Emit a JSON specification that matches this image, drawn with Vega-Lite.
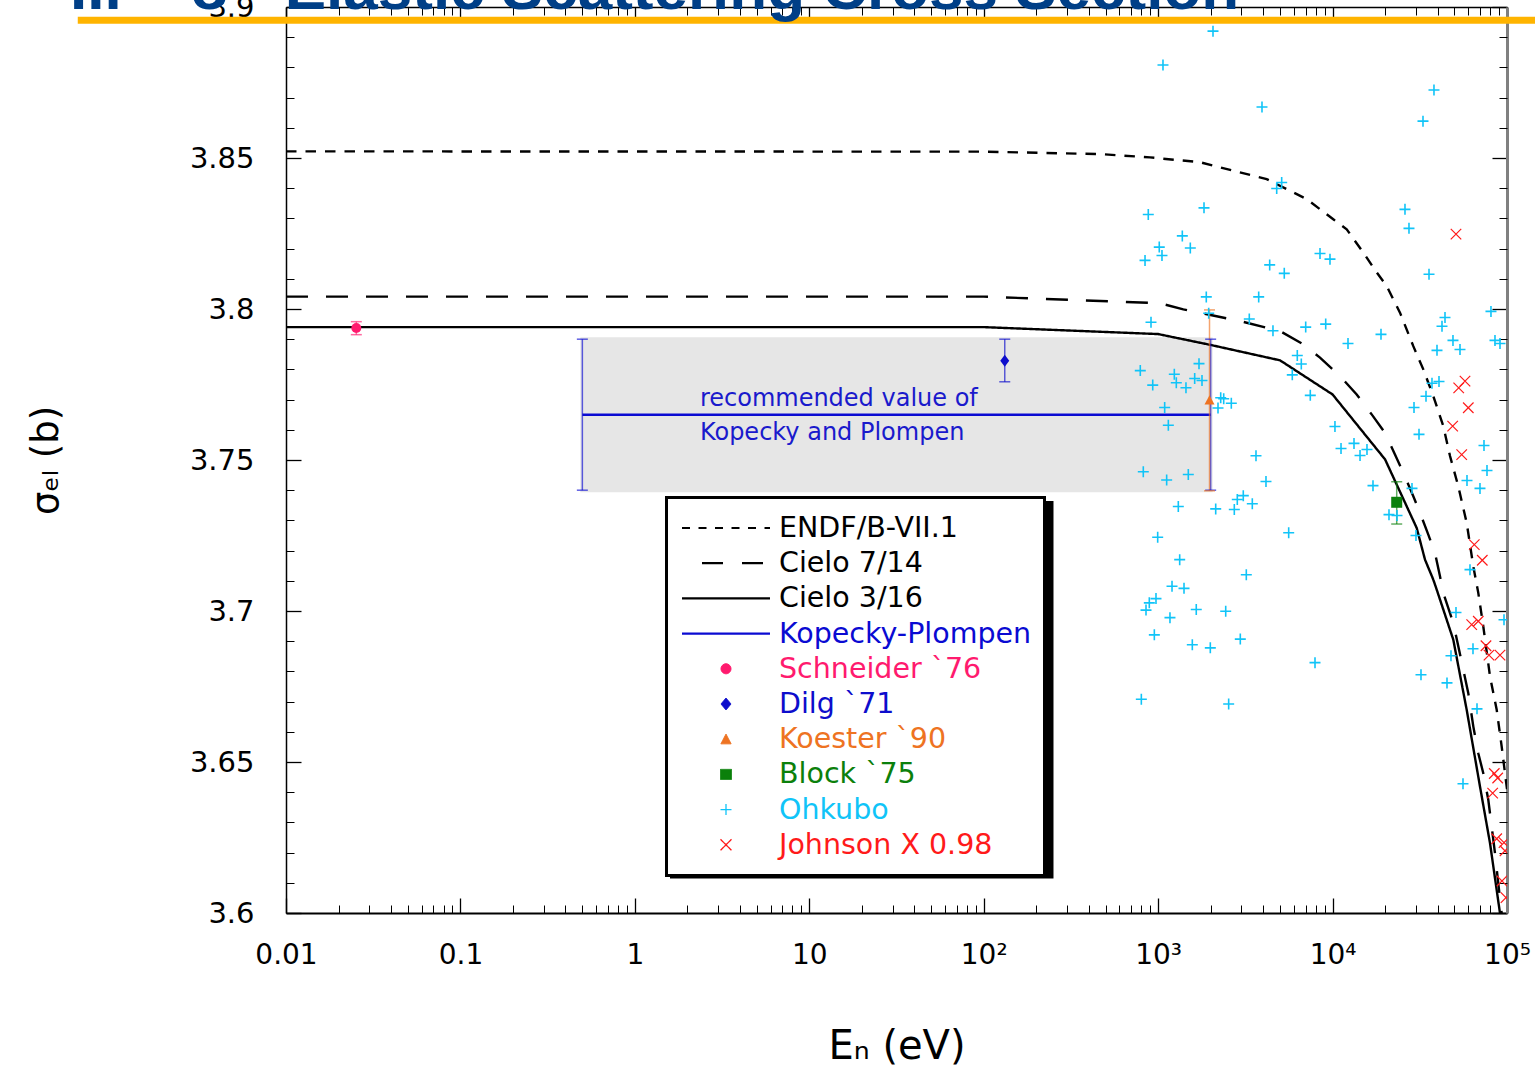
{
  "$schema": "https://vega.github.io/schema/vega-lite/v6.json",
  "width": 1221,
  "height": 906,
  "autosize": "none",
  "padding": {"left": 286, "top": 7, "right": 28, "bottom": 168},
  "background": "white",
  "config": {
    "view": {"stroke": null},
    "axis": {"grid": false, "labelFont": "DejaVu Sans", "titleFont": "DejaVu Sans", "tickColor": "black", "domainColor": "black", "labelColor": "black", "titleColor": "black", "titleFontWeight": "normal"},
    "legend": {"strokeWidth": 3}
  },
  "resolve": {"axis": {"x": "independent", "y": "independent"}},
  "datasets": {
    "heading": [{"label": "II.\u00a0\u00a0\u00a0\u00a0σ\u00a0\u00a0\u00a0Elastic Scattering Cross Section"}],
    "band": [{"E1": 0.5, "E2": 2000, "lo": 3.74, "hi": 3.79}],
    "note": [{"E": 2.36, "sigma": 3.765, "label": "recommended value of\nKopecky and Plompen"}],
    "curves": [
      {"series": "ENDF/B-VII.1", "E": 0.01, "sigma": 3.8522},
      {"series": "ENDF/B-VII.1", "E": 100, "sigma": 3.8521},
      {"series": "ENDF/B-VII.1", "E": 464, "sigma": 3.8513},
      {"series": "ENDF/B-VII.1", "E": 898, "sigma": 3.8502},
      {"series": "ENDF/B-VII.1", "E": 1738, "sigma": 3.8486},
      {"series": "ENDF/B-VII.1", "E": 4190, "sigma": 3.843},
      {"series": "ENDF/B-VII.1", "E": 7105, "sigma": 3.8364},
      {"series": "ENDF/B-VII.1", "E": 10090, "sigma": 3.8297},
      {"series": "ENDF/B-VII.1", "E": 12050, "sigma": 3.8264},
      {"series": "ENDF/B-VII.1", "E": 15000, "sigma": 3.8187},
      {"series": "ENDF/B-VII.1", "E": 17910, "sigma": 3.8121},
      {"series": "ENDF/B-VII.1", "E": 20430, "sigma": 3.8076},
      {"series": "ENDF/B-VII.1", "E": 24350, "sigma": 3.7988},
      {"series": "ENDF/B-VII.1", "E": 29030, "sigma": 3.7877},
      {"series": "ENDF/B-VII.1", "E": 33130, "sigma": 3.78},
      {"series": "ENDF/B-VII.1", "E": 37790, "sigma": 3.7712},
      {"series": "ENDF/B-VII.1", "E": 43140, "sigma": 3.7612},
      {"series": "ENDF/B-VII.1", "E": 47130, "sigma": 3.7513},
      {"series": "ENDF/B-VII.1", "E": 52570, "sigma": 3.7413},
      {"series": "ENDF/B-VII.1", "E": 58730, "sigma": 3.7292},
      {"series": "ENDF/B-VII.1", "E": 64090, "sigma": 3.7148},
      {"series": "ENDF/B-VII.1", "E": 68450, "sigma": 3.706},
      {"series": "ENDF/B-VII.1", "E": 73130, "sigma": 3.6949},
      {"series": "ENDF/B-VII.1", "E": 79920, "sigma": 3.6783},
      {"series": "ENDF/B-VII.1", "E": 87280, "sigma": 3.6673},
      {"series": "ENDF/B-VII.1", "E": 93230, "sigma": 3.6551},
      {"series": "ENDF/B-VII.1", "E": 97390, "sigma": 3.6463},
      {"series": "ENDF/B-VII.1", "E": 100000, "sigma": 3.641},
      {"series": "Cielo 7/14", "E": 0.01, "sigma": 3.8041},
      {"series": "Cielo 7/14", "E": 100, "sigma": 3.8041},
      {"series": "Cielo 7/14", "E": 1025, "sigma": 3.8019},
      {"series": "Cielo 7/14", "E": 1394, "sigma": 3.7999},
      {"series": "Cielo 7/14", "E": 2945, "sigma": 3.796},
      {"series": "Cielo 7/14", "E": 4995, "sigma": 3.7927},
      {"series": "Cielo 7/14", "E": 6796, "sigma": 3.7883},
      {"series": "Cielo 7/14", "E": 8471, "sigma": 3.7839},
      {"series": "Cielo 7/14", "E": 11030, "sigma": 3.7778},
      {"series": "Cielo 7/14", "E": 13750, "sigma": 3.7717},
      {"series": "Cielo 7/14", "E": 16760, "sigma": 3.7651},
      {"series": "Cielo 7/14", "E": 19980, "sigma": 3.759},
      {"series": "Cielo 7/14", "E": 22790, "sigma": 3.7518},
      {"series": "Cielo 7/14", "E": 25440, "sigma": 3.7458},
      {"series": "Cielo 7/14", "E": 29030, "sigma": 3.738},
      {"series": "Cielo 7/14", "E": 31710, "sigma": 3.7325},
      {"series": "Cielo 7/14", "E": 35390, "sigma": 3.7253},
      {"series": "Cielo 7/14", "E": 38660, "sigma": 3.7192},
      {"series": "Cielo 7/14", "E": 41290, "sigma": 3.7115},
      {"series": "Cielo 7/14", "E": 43140, "sigma": 3.706},
      {"series": "Cielo 7/14", "E": 49210, "sigma": 3.696},
      {"series": "Cielo 7/14", "E": 56160, "sigma": 3.6806},
      {"series": "Cielo 7/14", "E": 59990, "sigma": 3.6728},
      {"series": "Cielo 7/14", "E": 64090, "sigma": 3.6618},
      {"series": "Cielo 7/14", "E": 68450, "sigma": 3.6529},
      {"series": "Cielo 7/14", "E": 73130, "sigma": 3.6463},
      {"series": "Cielo 7/14", "E": 78110, "sigma": 3.6375},
      {"series": "Cielo 7/14", "E": 81690, "sigma": 3.6286},
      {"series": "Cielo 7/14", "E": 85330, "sigma": 3.6198},
      {"series": "Cielo 7/14", "E": 89130, "sigma": 3.6098},
      {"series": "Cielo 7/14", "E": 93230, "sigma": 3.5999},
      {"series": "Cielo 7/14", "E": 100000, "sigma": 3.581},
      {"series": "Cielo 3/16", "E": 0.01, "sigma": 3.794},
      {"series": "Cielo 3/16", "E": 100, "sigma": 3.794},
      {"series": "Cielo 3/16", "E": 1000, "sigma": 3.7917},
      {"series": "Cielo 3/16", "E": 2000, "sigma": 3.7881},
      {"series": "Cielo 3/16", "E": 5000, "sigma": 3.783},
      {"series": "Cielo 3/16", "E": 10000, "sigma": 3.7717},
      {"series": "Cielo 3/16", "E": 20000, "sigma": 3.7502},
      {"series": "Cielo 3/16", "E": 30360, "sigma": 3.7275},
      {"series": "Cielo 3/16", "E": 33880, "sigma": 3.717},
      {"series": "Cielo 3/16", "E": 37790, "sigma": 3.7104},
      {"series": "Cielo 3/16", "E": 39530, "sigma": 3.7071},
      {"series": "Cielo 3/16", "E": 49210, "sigma": 3.6905},
      {"series": "Cielo 3/16", "E": 58730, "sigma": 3.6673},
      {"series": "Cielo 3/16", "E": 70000, "sigma": 3.6419},
      {"series": "Cielo 3/16", "E": 79920, "sigma": 3.6231},
      {"series": "Cielo 3/16", "E": 91170, "sigma": 3.5999},
      {"series": "Cielo 3/16", "E": 100000, "sigma": 3.578},
      {"series": "Kopecky-Plompen", "E": 0.5, "sigma": 3.765},
      {"series": "Kopecky-Plompen", "E": 2000, "sigma": 3.765}
    ],
    "errbars": [
      {"series": "Kopecky-Plompen", "E": 0.5, "lo": 3.74, "hi": 3.79},
      {"series": "Kopecky-Plompen", "E": 2000, "lo": 3.74, "hi": 3.79},
      {"series": "Schneider `76", "E": 0.0253, "lo": 3.7915, "hi": 3.7958},
      {"series": "Dilg `71", "E": 132, "lo": 3.7759, "hi": 3.79},
      {"series": "Koester `90", "E": 1970, "lo": 3.7398, "hi": 3.7997},
      {"series": "Block `75", "E": 23320, "lo": 3.7288, "hi": 3.7428}
    ],
    "schneider": [{"series": "Schneider `76", "E": 0.0253, "sigma": 3.7937}],
    "dilg": [{"series": "Dilg `71", "E": 132, "sigma": 3.7829}],
    "koester": [{"series": "Koester `90", "E": 1970, "sigma": 3.7699}],
    "block": [{"series": "Block `75", "E": 23320, "sigma": 3.736}],
    "ohkubo": [
      {"series": "Ohkubo", "E": 2063, "sigma": 3.892}, {"series": "Ohkubo", "E": 1066, "sigma": 3.8808},
      {"series": "Ohkubo", "E": 3939, "sigma": 3.8669}, {"series": "Ohkubo", "E": 38140, "sigma": 3.8725},
      {"series": "Ohkubo", "E": 32990, "sigma": 3.8622}, {"series": "Ohkubo", "E": 5108, "sigma": 3.8419},
      {"series": "Ohkubo", "E": 4783, "sigma": 3.8399}, {"series": "Ohkubo", "E": 878, "sigma": 3.8313},
      {"series": "Ohkubo", "E": 1832, "sigma": 3.8335}, {"series": "Ohkubo", "E": 1376, "sigma": 3.8242},
      {"series": "Ohkubo", "E": 1015, "sigma": 3.8205}, {"series": "Ohkubo", "E": 1529, "sigma": 3.8202},
      {"series": "Ohkubo", "E": 1052, "sigma": 3.8177}, {"series": "Ohkubo", "E": 841, "sigma": 3.8161},
      {"series": "Ohkubo", "E": 26010, "sigma": 3.833}, {"series": "Ohkubo", "E": 27420, "sigma": 3.8267},
      {"series": "Ohkubo", "E": 35720, "sigma": 3.8115}, {"series": "Ohkubo", "E": 8471, "sigma": 3.8184},
      {"series": "Ohkubo", "E": 9665, "sigma": 3.8165}, {"series": "Ohkubo", "E": 4360, "sigma": 3.8146},
      {"series": "Ohkubo", "E": 5286, "sigma": 3.8118}, {"series": "Ohkubo", "E": 1888, "sigma": 3.804},
      {"series": "Ohkubo", "E": 3771, "sigma": 3.804}, {"series": "Ohkubo", "E": 1949, "sigma": 3.7986},
      {"series": "Ohkubo", "E": 910, "sigma": 3.7956}, {"series": "Ohkubo", "E": 3331, "sigma": 3.7967},
      {"series": "Ohkubo", "E": 4553, "sigma": 3.7928}, {"series": "Ohkubo", "E": 7014, "sigma": 3.794},
      {"series": "Ohkubo", "E": 9134, "sigma": 3.795}, {"series": "Ohkubo", "E": 18950, "sigma": 3.7916},
      {"series": "Ohkubo", "E": 12260, "sigma": 3.7886}, {"series": "Ohkubo", "E": 6277, "sigma": 3.7846},
      {"series": "Ohkubo", "E": 6618, "sigma": 3.7818}, {"series": "Ohkubo", "E": 5876, "sigma": 3.7782},
      {"series": "Ohkubo", "E": 7452, "sigma": 3.7714}, {"series": "Ohkubo", "E": 1715, "sigma": 3.7819},
      {"series": "Ohkubo", "E": 790, "sigma": 3.7796}, {"series": "Ohkubo", "E": 1238, "sigma": 3.7784},
      {"series": "Ohkubo", "E": 1271, "sigma": 3.7756}, {"series": "Ohkubo", "E": 931, "sigma": 3.7748},
      {"series": "Ohkubo", "E": 1620, "sigma": 3.777}, {"series": "Ohkubo", "E": 1784, "sigma": 3.7763},
      {"series": "Ohkubo", "E": 1444, "sigma": 3.7739}, {"series": "Ohkubo", "E": 2284, "sigma": 3.7706},
      {"series": "Ohkubo", "E": 2376, "sigma": 3.7703}, {"series": "Ohkubo", "E": 2204, "sigma": 3.7672},
      {"series": "Ohkubo", "E": 2627, "sigma": 3.7688}, {"series": "Ohkubo", "E": 1090, "sigma": 3.7674},
      {"series": "Ohkubo", "E": 1144, "sigma": 3.7615}, {"series": "Ohkubo", "E": 10320, "sigma": 3.7611},
      {"series": "Ohkubo", "E": 3639, "sigma": 3.7514}, {"series": "Ohkubo", "E": 4152, "sigma": 3.7429},
      {"series": "Ohkubo", "E": 822, "sigma": 3.7461}, {"series": "Ohkubo", "E": 1119, "sigma": 3.7434},
      {"series": "Ohkubo", "E": 1489, "sigma": 3.7452}, {"series": "Ohkubo", "E": 1305, "sigma": 3.7346},
      {"series": "Ohkubo", "E": 2138, "sigma": 3.7338}, {"series": "Ohkubo", "E": 2733, "sigma": 3.7336},
      {"series": "Ohkubo", "E": 2843, "sigma": 3.7369}, {"series": "Ohkubo", "E": 3077, "sigma": 3.7382},
      {"series": "Ohkubo", "E": 3466, "sigma": 3.7355}, {"series": "Ohkubo", "E": 5603, "sigma": 3.7259},
      {"series": "Ohkubo", "E": 994, "sigma": 3.7244}, {"series": "Ohkubo", "E": 1329, "sigma": 3.717},
      {"series": "Ohkubo", "E": 3202, "sigma": 3.712}, {"series": "Ohkubo", "E": 11180, "sigma": 3.7538},
      {"series": "Ohkubo", "E": 13270, "sigma": 3.7555}, {"series": "Ohkubo", "E": 14370, "sigma": 3.7515},
      {"series": "Ohkubo", "E": 15750, "sigma": 3.7535}, {"series": "Ohkubo", "E": 17050, "sigma": 3.7415},
      {"series": "Ohkubo", "E": 21060, "sigma": 3.7319}, {"series": "Ohkubo", "E": 23410, "sigma": 3.7316},
      {"series": "Ohkubo", "E": 28530, "sigma": 3.7406}, {"series": "Ohkubo", "E": 30080, "sigma": 3.725},
      {"series": "Ohkubo", "E": 44110, "sigma": 3.7972}, {"series": "Ohkubo", "E": 42400, "sigma": 3.7943},
      {"series": "Ohkubo", "E": 80930, "sigma": 3.7992}, {"series": "Ohkubo", "E": 49010, "sigma": 3.7896},
      {"series": "Ohkubo", "E": 53770, "sigma": 3.7866}, {"series": "Ohkubo", "E": 85330, "sigma": 3.7896},
      {"series": "Ohkubo", "E": 91170, "sigma": 3.7886}, {"series": "Ohkubo", "E": 39690, "sigma": 3.7863},
      {"series": "Ohkubo", "E": 37150, "sigma": 3.7754}, {"series": "Ohkubo", "E": 40750, "sigma": 3.776},
      {"series": "Ohkubo", "E": 34330, "sigma": 3.7711}, {"series": "Ohkubo", "E": 29300, "sigma": 3.7674},
      {"series": "Ohkubo", "E": 31300, "sigma": 3.7585}, {"series": "Ohkubo", "E": 73810, "sigma": 3.7548},
      {"series": "Ohkubo", "E": 76790, "sigma": 3.7465}, {"series": "Ohkubo", "E": 58970, "sigma": 3.7432},
      {"series": "Ohkubo", "E": 70000, "sigma": 3.7406}, {"series": "Ohkubo", "E": 61350, "sigma": 3.7137},
      {"series": "Ohkubo", "E": 1201, "sigma": 3.7082}, {"series": "Ohkubo", "E": 1407, "sigma": 3.7075},
      {"series": "Ohkubo", "E": 972, "sigma": 3.7041}, {"series": "Ohkubo", "E": 890, "sigma": 3.7027},
      {"series": "Ohkubo", "E": 852, "sigma": 3.7003}, {"series": "Ohkubo", "E": 1169, "sigma": 3.6978},
      {"series": "Ohkubo", "E": 1654, "sigma": 3.7005}, {"series": "Ohkubo", "E": 2440, "sigma": 3.6999},
      {"series": "Ohkubo", "E": 951, "sigma": 3.6921}, {"series": "Ohkubo", "E": 1570, "sigma": 3.6888},
      {"series": "Ohkubo", "E": 1991, "sigma": 3.6878}, {"series": "Ohkubo", "E": 2958, "sigma": 3.6907},
      {"series": "Ohkubo", "E": 7930, "sigma": 3.6829}, {"series": "Ohkubo", "E": 801, "sigma": 3.6708},
      {"series": "Ohkubo", "E": 2537, "sigma": 3.6692}, {"series": "Ohkubo", "E": 51000, "sigma": 3.6995},
      {"series": "Ohkubo", "E": 96120, "sigma": 3.6971}, {"series": "Ohkubo", "E": 63830, "sigma": 3.6875},
      {"series": "Ohkubo", "E": 47740, "sigma": 3.6852}, {"series": "Ohkubo", "E": 32130, "sigma": 3.6789},
      {"series": "Ohkubo", "E": 45290, "sigma": 3.6762}, {"series": "Ohkubo", "E": 67300, "sigma": 3.6676},
      {"series": "Ohkubo", "E": 55940, "sigma": 3.6428}
    ],
    "johnson": [
      {"series": "Johnson X 0.98", "E": 51000, "sigma": 3.8248}, {"series": "Johnson X 0.98", "E": 57440, "sigma": 3.7761},
      {"series": "Johnson X 0.98", "E": 52850, "sigma": 3.7739}, {"series": "Johnson X 0.98", "E": 59990, "sigma": 3.7673},
      {"series": "Johnson X 0.98", "E": 48810, "sigma": 3.7612}, {"series": "Johnson X 0.98", "E": 54980, "sigma": 3.7518},
      {"series": "Johnson X 0.98", "E": 64930, "sigma": 3.722}, {"series": "Johnson X 0.98", "E": 72160, "sigma": 3.7168},
      {"series": "Johnson X 0.98", "E": 62750, "sigma": 3.6955}, {"series": "Johnson X 0.98", "E": 68450, "sigma": 3.6966},
      {"series": "Johnson X 0.98", "E": 75770, "sigma": 3.6885}, {"series": "Johnson X 0.98", "E": 78830, "sigma": 3.6854},
      {"series": "Johnson X 0.98", "E": 91170, "sigma": 3.6854}, {"series": "Johnson X 0.98", "E": 84540, "sigma": 3.6462},
      {"series": "Johnson X 0.98", "E": 88430, "sigma": 3.6447}, {"series": "Johnson X 0.98", "E": 82760, "sigma": 3.6397},
      {"series": "Johnson X 0.98", "E": 87280, "sigma": 3.6246}, {"series": "Johnson X 0.98", "E": 96120, "sigma": 3.6233},
      {"series": "Johnson X 0.98", "E": 97390, "sigma": 3.6206}, {"series": "Johnson X 0.98", "E": 93610, "sigma": 3.6106},
      {"series": "Johnson X 0.98", "E": 98680, "sigma": 3.6051}
    ]
  },
  "layer": [
    {
      "data": {"name": "band"},
      "mark": {"type": "rect", "color": "#e6e6e6", "stroke": "#e6e6e6", "strokeWidth": 4},
      "encoding": {
        "x": {"field": "E1", "type": "quantitative", "scale": {"type": "log", "domain": [0.01, 100000], "nice": false},
          "axis": {"orient": "bottom", "values": [0.01, 0.1, 1, 10, 100, 1000, 10000, 100000],
            "labelExpr": "datum.value < 50 ? format(datum.value, '~g') : '10' + ['⁰','¹','²','³','⁴','⁵'][round(log(datum.value)/LN10)]",
            "tickSize": -15, "tickWidth": 1.3, "domainWidth": 2, "labelFontSize": 28, "labelPadding": 43,
            "labelFlush": false, "labelOverlap": false,
            "title": "Eₙ (eV)", "titleFont": "DejaVu Sans", "titleFontSize": 40, "titlePadding": 57}},
        "x2": {"field": "E2"},
        "y": {"field": "lo", "type": "quantitative", "scale": {"domain": [3.6, 3.9], "nice": false, "zero": false},
          "axis": {"orient": "left", "values": [3.6, 3.65, 3.7, 3.75, 3.8, 3.85, 3.9], "format": ".2~f",
            "tickSize": -15, "tickWidth": 1.3, "domainWidth": 1.5, "labelFontSize": 29, "labelPadding": 47,
            "labelFlush": false, "labelOverlap": false,
            "title": "σₑₗ (b)", "titleFont": "DejaVu Sans", "titleFontSize": 37, "titlePadding": 124}},
        "y2": {"field": "hi"}
      }
    },
    {
      "data": {"values": [{}]},
      "mark": {"type": "rect", "color": "black"},
      "encoding": {
        "x": {"datum": 1.59, "type": "quantitative", "scale": {"type": "log", "domain": [0.01, 100000], "nice": false}, "axis": null},
        "x2": {"datum": 251.2},
        "y": {"datum": 3.7364, "type": "quantitative", "scale": {"domain": [3.6, 3.9], "nice": false, "zero": false}, "axis": null},
        "y2": {"datum": 3.6114}
      }
    },
    {
      "data": {"name": "note"},
      "mark": {"type": "text", "align": "left", "baseline": "middle", "lineBreak": "\n", "lineHeight": 34, "dy": -16, "font": "DejaVu Sans", "fontSize": 24, "color": "#1a1acc"},
      "encoding": {
        "x": {"field": "E", "type": "quantitative", "scale": {"type": "log", "domain": [0.01, 100000], "nice": false},
          "axis": {"orient": "top", "values": [0.01, 0.1, 1, 10, 100, 1000, 10000, 100000], "labels": false, "tickSize": -15, "tickWidth": 1.3, "domainWidth": 1.5, "title": null}},
        "y": {"field": "sigma", "type": "quantitative", "scale": {"domain": [3.6, 3.9], "nice": false, "zero": false},
          "axis": {"orient": "right", "values": [3.6, 3.65, 3.7, 3.75, 3.8, 3.85, 3.9], "labels": false, "tickSize": -15, "tickWidth": 1.3, "domainWidth": 3, "domainColor": "#808080", "title": null}},
        "text": {"field": "label"}
      }
    },
    {
      "data": {"name": "curves"},
      "mark": {"type": "line", "clip": true},
      "encoding": {
        "x": {"field": "E", "type": "quantitative", "scale": {"type": "log", "domain": [0.01, 100000], "nice": false},
          "axis": {"orient": "top", "values": [0.02,0.03,0.04,0.05,0.06,0.07,0.08,0.09,0.2,0.3,0.4,0.5,0.6,0.7,0.8,0.9,2,3,4,5,6,7,8,9,20,30,40,50,60,70,80,90,200,300,400,500,600,700,800,900,2000,3000,4000,5000,6000,7000,8000,9000,20000,30000,40000,50000,60000,70000,80000,90000],
            "labels": false, "tickSize": -8, "tickWidth": 1, "domain": false, "title": null}},
        "y": {"field": "sigma", "type": "quantitative", "scale": {"domain": [3.6, 3.9], "nice": false, "zero": false},
          "axis": {"orient": "right", "values": [3.61,3.62,3.63,3.64,3.66,3.67,3.68,3.69,3.71,3.72,3.73,3.74,3.76,3.77,3.78,3.79,3.81,3.82,3.83,3.84,3.86,3.87,3.88,3.89],
            "labels": false, "tickSize": -8, "tickWidth": 1, "domain": false, "title": null}},
        "color": {"field": "series", "type": "nominal",
          "scale": {"domain": ["ENDF/B-VII.1", "Cielo 7/14", "Cielo 3/16", "Kopecky-Plompen", "Schneider `76", "Dilg `71", "Koester `90", "Block `75", "Ohkubo", "Johnson X 0.98"],
            "range": ["#000000", "#000000", "#000000", "#0a0ad2", "#ff1a6e", "#0d0dcc", "#ee7322", "#0b800b", "#10c4f8", "#ff1a1a"]},
          "legend": {
            "title": null, "orient": "none", "direction": "vertical", "columns": 1,
            "legendX": 380.5, "legendY": 490.5, "padding": 13,
            "fillColor": "white", "strokeColor": "black",
            "labelFont": "DejaVu Sans", "labelFontSize": 28.5, "labelLimit": 0, "labelOffset": 38.75,
            "labelColor": {"expr": "scale('color', datum.value)"},
            "clipHeight": 35, "rowPadding": 0.2,
            "symbolSize": 8649, "symbolOffset": 32.25, "symbolOpacity": 1,
            "symbolType": {"expr": "['M-0.946,0H0.946','M-0.516,0H-0.065M0.344,0H0.796','M-0.946,0H0.946','M-0.946,0H0.946','M0.1075,0A0.1075,0.1075,0,1,1,-0.1075,0A0.1075,0.1075,0,1,1,0.1075,0Z','M0,-0.129L0.1075,0L0,0.129L-0.1075,0Z','M0,-0.11L0.11,0.1L-0.11,0.1Z','M-0.118,-0.108H0.118V0.108H-0.118Z','M-0.118,0H0.118M0,-0.118V0.118','M-0.118,-0.118L0.118,0.118M0.118,-0.118L-0.118,0.118'][indexof(domain('color'), datum.value)]"},
            "symbolStrokeColor": {"expr": "scale('color', datum.value)"},
            "symbolFillColor": {"expr": "indexof(domain('color'), datum.value) >= 4 && indexof(domain('color'), datum.value) <= 7 ? scale('color', datum.value) : 'transparent'"},
            "symbolStrokeWidth": {"expr": "indexof(domain('color'), datum.value) < 4 ? 2.2 : (indexof(domain('color'), datum.value) >= 8 ? 1.3 : 1)"},
            "symbolDash": {"expr": "datum.value == 'ENDF/B-VII.1' ? [8, 8.5] : [1, 0]"}
          }},
        "strokeDash": {"field": "series", "type": "nominal",
          "scale": {"domain": ["ENDF/B-VII.1", "Cielo 7/14", "Cielo 3/16", "Kopecky-Plompen"], "range": [[10.5, 9], [22, 18], [1, 0], [1, 0]]},
          "legend": null},
        "strokeWidth": {"value": 2.4}
      }
    },
    {
      "data": {"name": "errbars"},
      "mark": {"type": "rule", "strokeWidth": 1.5, "opacity": 0.65},
      "encoding": {
        "x": {"field": "E", "type": "quantitative", "scale": {"type": "log", "domain": [0.01, 100000], "nice": false},
          "axis": {"orient": "bottom", "values": [0.02,0.03,0.04,0.05,0.06,0.07,0.08,0.09,0.2,0.3,0.4,0.5,0.6,0.7,0.8,0.9,2,3,4,5,6,7,8,9,20,30,40,50,60,70,80,90,200,300,400,500,600,700,800,900,2000,3000,4000,5000,6000,7000,8000,9000,20000,30000,40000,50000,60000,70000,80000,90000],
            "labels": false, "tickSize": -8, "tickWidth": 1, "domain": false, "title": null}},
        "y": {"field": "lo", "type": "quantitative", "scale": {"domain": [3.6, 3.9], "nice": false, "zero": false},
          "axis": {"orient": "left", "values": [3.61,3.62,3.63,3.64,3.66,3.67,3.68,3.69,3.71,3.72,3.73,3.74,3.76,3.77,3.78,3.79,3.81,3.82,3.83,3.84,3.86,3.87,3.88,3.89],
            "labels": false, "tickSize": -8, "tickWidth": 1, "domain": false, "title": null}},
        "y2": {"field": "hi"},
        "color": {"field": "series", "type": "nominal", "legend": null}
      }
    },
    {
      "data": {"name": "errbars"},
      "mark": {"type": "tick", "orient": "horizontal", "size": 11, "thickness": 1.5, "opacity": 0.65},
      "encoding": {
        "x": {"field": "E", "type": "quantitative", "axis": null},
        "y": {"field": "lo", "type": "quantitative", "axis": null},
        "color": {"field": "series", "type": "nominal", "legend": null}
      }
    },
    {
      "data": {"name": "errbars"},
      "mark": {"type": "tick", "orient": "horizontal", "size": 11, "thickness": 1.5, "opacity": 0.65},
      "encoding": {
        "x": {"field": "E", "type": "quantitative", "axis": null},
        "y": {"field": "hi", "type": "quantitative", "axis": null},
        "color": {"field": "series", "type": "nominal", "legend": null}
      }
    },
    {
      "data": {"name": "schneider"},
      "mark": {"type": "point", "shape": "circle", "filled": true, "size": 100, "opacity": 1},
      "encoding": {
        "x": {"field": "E", "type": "quantitative", "axis": null},
        "y": {"field": "sigma", "type": "quantitative", "axis": null},
        "color": {"field": "series", "type": "nominal", "legend": null}
      }
    },
    {
      "data": {"name": "dilg"},
      "mark": {"type": "point", "shape": "M0,-1L0.75,0L0,1L-0.75,0Z", "filled": true, "size": 144, "opacity": 1},
      "encoding": {
        "x": {"field": "E", "type": "quantitative", "axis": null},
        "y": {"field": "sigma", "type": "quantitative", "axis": null},
        "color": {"field": "series", "type": "nominal", "legend": null}
      }
    },
    {
      "data": {"name": "koester"},
      "mark": {"type": "point", "shape": "M0,-0.95L1,0.9L-1,0.9Z", "filled": true, "size": 100, "opacity": 1},
      "encoding": {
        "x": {"field": "E", "type": "quantitative", "axis": null},
        "y": {"field": "sigma", "type": "quantitative", "axis": null},
        "color": {"field": "series", "type": "nominal", "legend": null}
      }
    },
    {
      "data": {"name": "block"},
      "mark": {"type": "point", "shape": "square", "filled": true, "size": 121, "opacity": 1},
      "encoding": {
        "x": {"field": "E", "type": "quantitative", "axis": null},
        "y": {"field": "sigma", "type": "quantitative", "axis": null},
        "color": {"field": "series", "type": "nominal", "legend": null}
      }
    },
    {
      "data": {"name": "ohkubo"},
      "mark": {"type": "point", "shape": "M-1,0H1M0,-1V1", "filled": false, "size": 121, "strokeWidth": 1.6, "opacity": 1, "clip": true},
      "encoding": {
        "x": {"field": "E", "type": "quantitative", "axis": null},
        "y": {"field": "sigma", "type": "quantitative", "axis": null},
        "color": {"field": "series", "type": "nominal", "legend": null}
      }
    },
    {
      "data": {"name": "johnson"},
      "mark": {"type": "point", "shape": "M-1,-1L1,1M1,-1L-1,1", "filled": false, "size": 110, "strokeWidth": 1.2, "opacity": 1, "clip": true},
      "encoding": {
        "x": {"field": "E", "type": "quantitative", "axis": null},
        "y": {"field": "sigma", "type": "quantitative", "axis": null},
        "color": {"field": "series", "type": "nominal", "legend": null}
      }
    },
    {
      "data": {"values": [{}]},
      "mark": {"type": "rule", "color": "#ffb400", "strokeWidth": 7, "clip": false},
      "encoding": {
        "x": {"datum": 0.00064, "type": "quantitative", "axis": null},
        "x2": {"datum": 200000},
        "y": {"datum": 3.8956, "type": "quantitative", "axis": null}
      }
    },
    {
      "data": {"name": "heading"},
      "mark": {"type": "text", "align": "left", "baseline": "alphabetic", "clip": false, "font": "Liberation Sans", "fontWeight": "bold", "fontSize": 62, "color": "#003f87"},
      "encoding": {
        "x": {"datum": 0.000578, "type": "quantitative", "axis": null},
        "y": {"datum": 3.89924, "type": "quantitative", "axis": null},
        "text": {"field": "label"}
      }
    }
  ]
}
